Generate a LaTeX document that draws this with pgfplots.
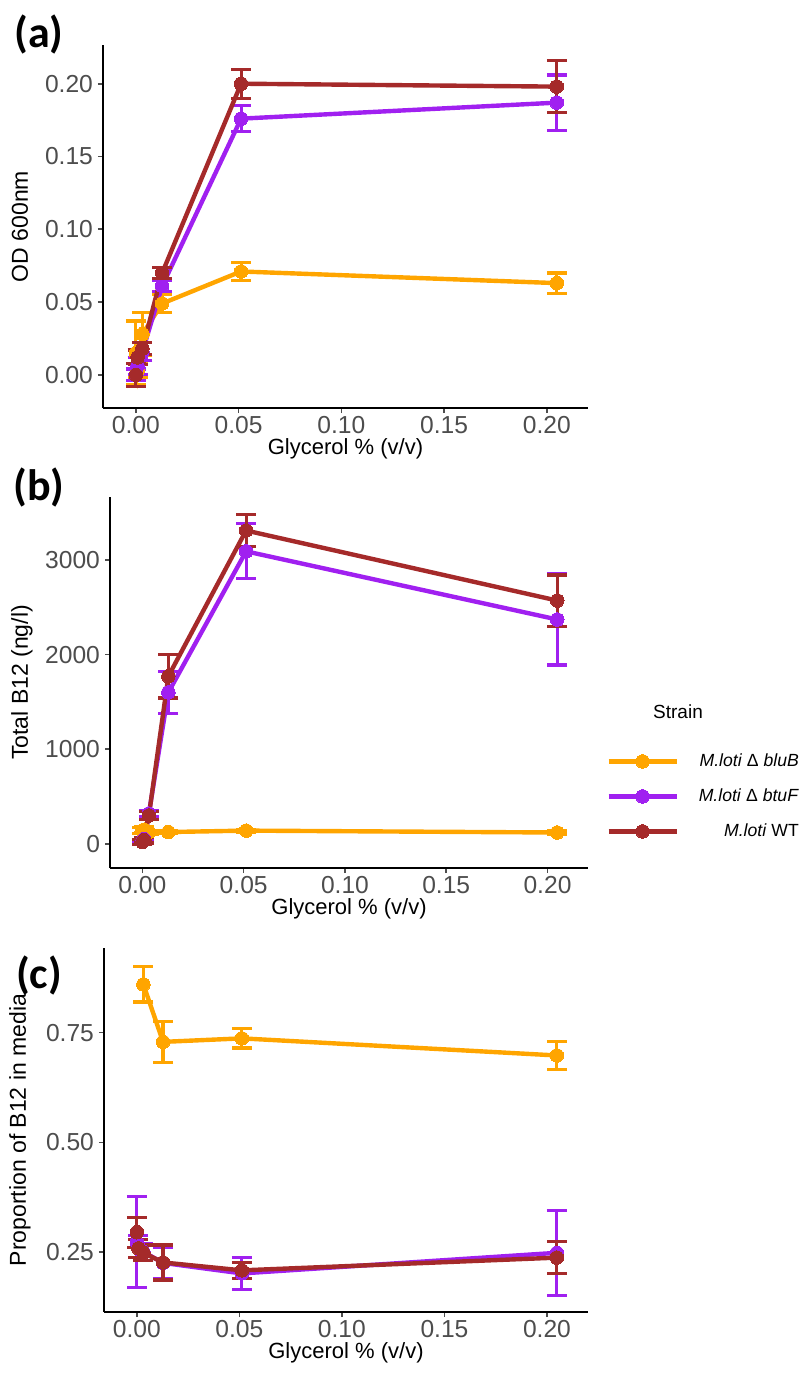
\documentclass[border=0pt]{standalone}
\usepackage{fontspec}
\setmainfont{Liberation Sans}
\newfontfamily\labfont{Carlito}
\usepackage{pgfplots}
\pgfplotsset{compat=1.18}
\definecolor{cOr}{HTML}{FFA500}
\definecolor{cPu}{HTML}{A020F0}
\definecolor{cBr}{HTML}{A52A2A}
\definecolor{tickgray}{HTML}{4D4D4D}
\pgfplotsset{
 gg/.style={
  scale only axis,
  axis x line*=bottom, axis y line*=left,
  axis line style={line width=1pt, black, -},
  tick style={line width=0.8pt, tickgray},
  tick align=outside, major tick length=2.5pt,
  xmin=-0.016, xmax=0.220,
  xtick={0,0.05,0.1,0.15,0.2},
  /pgf/number format/assume math mode=true,
  ticklabel style={font=\fontsize{12.3}{14}\selectfont, text=tickgray},
  xticklabel style={/pgf/number format/.cd, fixed, fixed zerofill, precision=2, /tikz/.cd, yshift=2pt},
  yticklabel style={xshift=1pt},
  xlabel={Glycerol \% (v/v)},
  xlabel style={font=\fontsize{11}{13}\selectfont, at={(axis description cs:0.5,0)}, anchor=center, yshift=-20.5pt},
  ylabel style={font=\fontsize{11.5}{13}\selectfont},
  clip=false,
 },
 ser/.style={color=#1, line width=2.2pt, mark=*, mark size=3.4pt,
   mark options={solid, fill=#1, draw=#1, line width=0pt},
   error bars/y dir=both, error bars/y explicit,
   error bars/error bar style={line width=1.6pt, color=#1},
   error bars/error mark options={rotate=90, mark size=5pt, line width=1.6pt, color=#1}},
}
\begin{document}
\begin{tikzpicture}
\useasboundingbox (0,0) rectangle (402.5pt,-688pt);
% ---------------- (a)
\begin{axis}[gg, at={(51.5pt,-204pt)}, anchor=south west, width=242.5pt, height=181.5pt,
  ymin=-0.0228, ymax=0.2266, ytick={0,0.05,0.1,0.15,0.2},
  yticklabel style={/pgf/number format/.cd, fixed, fixed zerofill, precision=2},
  ylabel={OD 600nm}, ylabel style={at={(axis description cs:0,0.5)}, anchor=center, yshift=41.5pt}]
\addplot+[ser=cOr] table[x=x, y=y, y error=e] {
x y e
0 0.015 0.022
0.0008 0.003 0.005
0.0032 0.028 0.015
0.0128 0.049 0.006
0.0512 0.071 0.006
0.2048 0.063 0.007
};
\addplot+[ser=cPu] table[x=x, y=y, y error=e] {
x y e
0 0.000 0.004
0.0008 0.006 0.006
0.0032 0.016 0.006
0.0128 0.061 0.004
0.0512 0.176 0.009
0.2048 0.187 0.019
};
\addplot+[ser=cBr] table[x=x, y=y, y error=e] {
x y e
0 0.000 0.008
0.0008 0.012 0.005
0.0032 0.018 0.004
0.0128 0.070 0.004
0.0512 0.200 0.010
0.2048 0.198 0.018
};
\end{axis}
% ---------------- (b)
\begin{axis}[gg, at={(55pt,-434pt)}, anchor=south west, width=239pt, height=185.5pt,
  ymin=-255, ymax=3664, ytick={0,1000,2000,3000},
  yticklabel style={/pgf/number format/.cd, fixed, set thousands separator={}},
  ylabel={Total B12 (ng/l)}, ylabel style={at={(axis description cs:0,0.5)}, anchor=center, yshift=44pt},
  legend style={at={(axis description cs:1.0377,0.3126)}, anchor=north west, draw=none, fill=none,
    font=\fontsize{8.8}{10}\selectfont, row sep=8.5pt, inner sep=0pt,
    nodes={inner sep=0pt, text height=7pt, text depth=2pt},
    /tikz/every odd column/.append style={column sep=10pt}},
  legend cell align=right,
  legend image code/.code={\draw[#1, mark repeat=2, mark phase=2] plot coordinates {(0pt,0pt) (17pt,0pt) (34pt,0pt)};}]
\addplot+[ser=cOr] table[x=x, y=y, y error=e] {
x y e
0 140 30
0.0008 150 30
0.0032 125 20
0.0128 125 15
0.0512 140 15
0.2048 120 15
};
\addlegendentry{\textit{M.loti} Δ \textit{bluB}}
\addplot+[ser=cPu] table[x=x, y=y, y error=e] {
x y e
0 30 20
0.0008 50 20
0.0032 320 30
0.0128 1600 220
0.0512 3090 290
0.2048 2370 480
};
\addlegendentry{\textit{M.loti} Δ \textit{btuF}}
\addplot+[ser=cBr] table[x=x, y=y, y error=e] {
x y e
0 20 30
0.0008 40 30
0.0032 300 40
0.0128 1770 230
0.0512 3310 170
0.2048 2570 270
};
\addlegendentry{\textit{M.loti} WT}
\end{axis}
% ---------------- (c)
\begin{axis}[gg, at={(52pt,-656pt)}, anchor=south west, width=242pt, height=182pt,
  ymin=0.113, ymax=0.943, ytick={0.25,0.5,0.75},
  yticklabel style={/pgf/number format/.cd, fixed, fixed zerofill, precision=2},
  ylabel={Proportion of B12 in media}, ylabel style={at={(axis description cs:0,0.5)}, anchor=center, yshift=42pt}]
\addplot+[ser=cOr] table[x=x, y=y, y error=e] {
x y e
0.0032 0.860 0.040
0.0128 0.729 0.047
0.0512 0.737 0.022
0.2048 0.698 0.032
};
\addplot+[ser=cPu] table[x=x, y=y, y error=e] {
x y e
0 0.272 0.104
0.0008 0.262 0.025
0.0032 0.250 0.020
0.0128 0.225 0.035
0.0512 0.201 0.036
0.2048 0.248 0.097
};
\addplot+[ser=cBr] table[x=x, y=y, y error=e] {
x y e
0 0.295 0.034
0.0008 0.258 0.020
0.0032 0.248 0.018
0.0128 0.226 0.040
0.0512 0.208 0.018
0.2048 0.237 0.037
};
\end{axis}
\node[font=\labfont\bfseries\fontsize{22}{24}\selectfont] at (19.5pt,-17.5pt) {(a)};
\node[font=\labfont\bfseries\fontsize{22}{24}\selectfont] at (19.5pt,-243.5pt) {(b)};
\node[font=\labfont\bfseries\fontsize{22}{24}\selectfont] at (19.5pt,-487.5pt) {(c)};
\node[font=\fontsize{9.5}{11}\selectfont] at (339pt,-356pt) {Strain};
\end{tikzpicture}
\end{document}
